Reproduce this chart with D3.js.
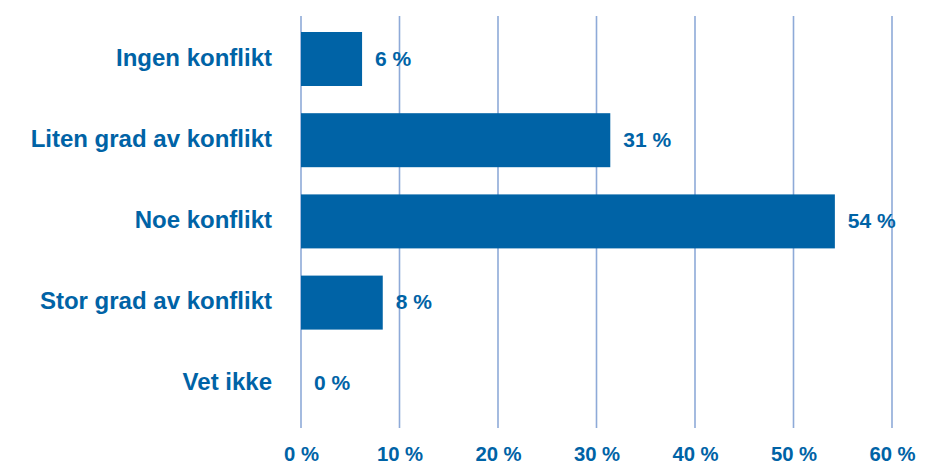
<!DOCTYPE html>
<html>
<head>
<meta charset="utf-8">
<script src="https://cdn.jsdelivr.net/npm/d3@7"></script>
<style>
  html, body { margin: 0; padding: 0; background: #ffffff; }
  svg { display: block; }
  text { font-family: "Liberation Sans", Arial, sans-serif; font-weight: bold; fill: #0063a6; }
</style>
</head>
<body>
<svg id="chart" width="926" height="466"></svg>
<script>
const categories = ["Ingen konflikt", "Liten grad av konflikt", "Noe konflikt", "Stor grad av konflikt", "Vet ikke"];
const values = [6.2, 31.4, 54.2, 8.3, 0];
const valueLabels = ["6 %", "31 %", "54 %", "8 %", "0 %"];
const tickValues = [0, 10, 20, 30, 40, 50, 60];
const tickLabels = ["0 %", "10 %", "20 %", "30 %", "40 %", "50 %", "60 %"];

const svg = d3.select("#chart");
const barColor = "#0063a6";
const gridColor = "#8eaad8";

const x = d3.scaleLinear().domain([0, 60]).range([301, 892]);
const y = d3.scaleBand().domain(categories).range([18.4, 424.4])
  .paddingInner(0.335).paddingOuter(0.1675);

const gridTop = 16, gridBottom = 428;

// gridlines
svg.append("g").selectAll("line").data(tickValues).join("line")
  .attr("x1", d => x(d)).attr("x2", d => x(d))
  .attr("y1", gridTop).attr("y2", gridBottom)
  .attr("stroke", gridColor).attr("stroke-width", 1.6);

// bars
svg.append("g").selectAll("rect").data(values).join("rect")
  .attr("x", x(0))
  .attr("y", (d, i) => y(categories[i]))
  .attr("width", d => x(d) - x(0))
  .attr("height", y.bandwidth())
  .attr("fill", barColor);

// value labels
svg.append("g").selectAll("text").data(values).join("text")
  .attr("x", d => x(d) + 13)
  .attr("y", (d, i) => y(categories[i]) + y.bandwidth() / 2 + 6.5)
  .attr("font-size", 21)
  .text((d, i) => valueLabels[i]);

// category labels
svg.append("g").selectAll("text").data(categories).join("text")
  .attr("x", 272)
  .attr("y", d => y(d) + y.bandwidth() / 2 + 6.5)
  .attr("text-anchor", "end")
  .attr("font-size", 24)
  .text(d => d);

// x axis labels
const xAxis = d3.axisBottom(x).tickValues(tickValues)
  .tickFormat((d, i) => tickLabels[i]).tickSize(0).tickPadding(0);
const gx = svg.append("g").call(xAxis);
gx.select(".domain").remove();
gx.selectAll("text")
  .attr("y", 460.5).attr("dy", null)
  .attr("font-size", 20.3)
  .style("font-family", "'Liberation Sans', Arial, sans-serif")
  .style("font-weight", "bold")
  .attr("fill", barColor);
</script>
</body>
</html>
